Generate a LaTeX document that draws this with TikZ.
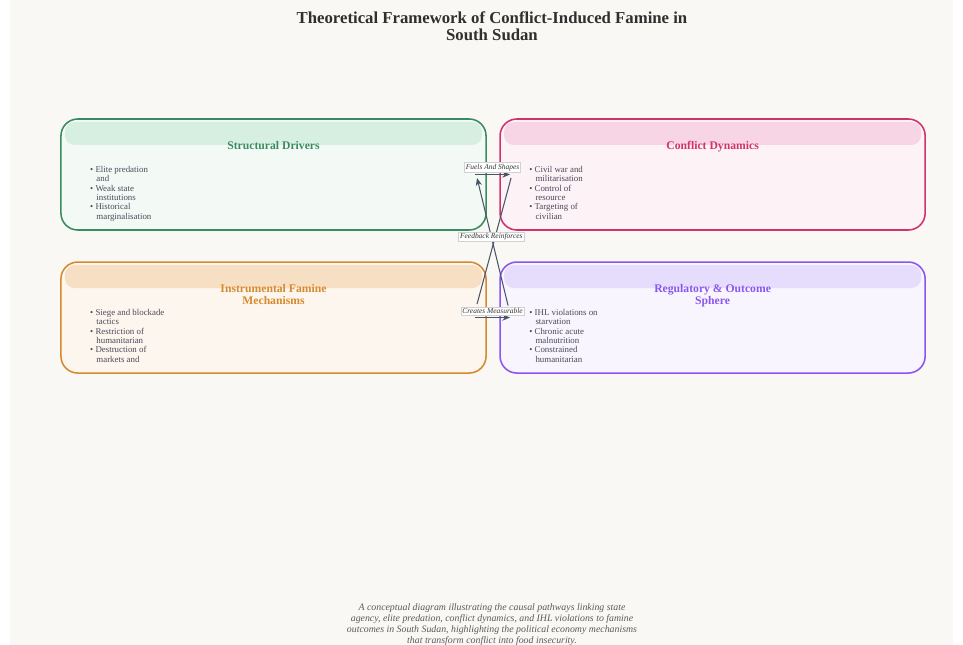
\documentclass[tikz,border=0pt]{standalone}
\usepackage{fontspec}
\setmainfont{Liberation Serif}
\usetikzlibrary{arrows.meta, positioning, calc}

\definecolor{pagebg}{HTML}{F9F8F5}
\definecolor{inktitle}{HTML}{2F2F2F}
\definecolor{inktext}{HTML}{4A4A5C}
\definecolor{inkedge}{HTML}{4A5568}
\definecolor{inkcap}{HTML}{5A5A5A}
% one line, one fill and one header tint per sphere
\definecolor{sdline}{HTML}{3A8C60}\definecolor{sdfill}{HTML}{F3FAF5}\definecolor{sdhead}{HTML}{D6EFE0}
\definecolor{cdline}{HTML}{D0336B}\definecolor{cdfill}{HTML}{FDF2F6}\definecolor{cdhead}{HTML}{F7D5E5}
\definecolor{imline}{HTML}{D68A2E}\definecolor{imfill}{HTML}{FDF6EE}\definecolor{imhead}{HTML}{F6DFC2}
\definecolor{rdline}{HTML}{8B55F0}\definecolor{rdfill}{HTML}{F8F5FE}\definecolor{rdhead}{HTML}{E6DCFB}

\newcommand{\bitem}[2]{\textbullet\ #1\\\hspace*{0.7em}#2}

\begin{document}
\begin{tikzpicture}[x=0.025cm, y=-0.025cm, >={Stealth[length=5.5pt, width=4.5pt]},
    node distance=0.35cm,
    sphere/.style={draw, rounded corners=12pt, line width=1.1pt, outer sep=0pt,
      minimum width=10.625cm, minimum height=2.775cm},
    band/.style={rounded corners=7pt, outer sep=0pt, inner sep=0pt,
      minimum width=10.425cm, minimum height=0.575cm},
    headline/.style={font=\fontsize{8.3}{8.8}\selectfont\bfseries, align=center,
      inner sep=0pt, anchor=north},
    points/.style={font=\fontsize{6.3}{6.65}\selectfont, text=inktext, align=left,
      inner sep=0pt, anchor=north west},
    link/.style={->, draw=inkedge, line width=0.75pt},
    tag/.style={draw=black!18, fill=white, inner sep=1pt, line width=0.3pt,
      font=\fontsize{5.3}{6}\selectfont\itshape, text=black!80}]

  \useasboundingbox (0,0) rectangle (963,645);
  \fill[white] (0,0) rectangle (963,645);
  \fill[pagebg] (10,0) rectangle (953,645);

  \node[font=\fontsize{11.9}{12.4}\selectfont\bfseries, text=inktitle,
        align=center, inner sep=0pt, anchor=north] (title) at (492,11)
    {Theoretical Framework of Conflict-Induced Famine in\\South Sudan};

  % the four spheres
  \node[sphere, draw=sdline, fill=sdfill] (sd) at (273.5,174.5) {};
  \node[sphere, draw=cdline, fill=cdfill, right=of sd] (cd) {};
  \node[sphere, draw=imline, fill=imfill, below=0.8cm of sd] (im) {};
  \node[sphere, draw=rdline, fill=rdfill, right=of im] (rd) {};

  \node[band, fill=sdhead] (sdband) at ($(sd.north)+(0,14.5)$) {};
  \node[band, fill=cdhead] (cdband) at ($(cd.north)+(0,14.5)$) {};
  \node[band, fill=imhead] (imband) at ($(im.north)+(0,14.5)$) {};
  \node[band, fill=rdhead] (rdband) at ($(rd.north)+(0,14.5)$) {};

  \node[headline, text=sdline] (sdtitle) at ($(sd.north)+(0,22)$) {Structural Drivers};
  \node[headline, text=cdline] (cdtitle) at ($(cd.north)+(0,22)$) {Conflict Dynamics};
  \node[headline, text=imline] (imtitle) at ($(im.north)+(0,22)$)
    {Instrumental Famine\\Mechanisms};
  \node[headline, text=rdline] (rdtitle) at ($(rd.north)+(0,22)$)
    {Regulatory \& Outcome\\Sphere};

  \node[points] (sdlist) at ($(sd.north west)+(29,47)$)
    {\bitem{Elite predation}{and}\\\bitem{Weak state}{institutions}\\
     \bitem{Historical}{marginalisation}};
  \node[points] (cdlist) at ($(cd.north west)+(29,47)$)
    {\bitem{Civil war and}{militarisation}\\\bitem{Control of}{resource}\\
     \bitem{Targeting of}{civilian}};
  \node[points] (imlist) at ($(im.north west)+(29,47)$)
    {\bitem{Siege and blockade}{tactics}\\\bitem{Restriction of}{humanitarian}\\
     \bitem{Destruction of}{markets and}};
  \node[points] (rdlist) at ($(rd.north west)+(29,47)$)
    {\bitem{IHL violations on}{starvation}\\\bitem{Chronic acute}{malnutrition}\\
     \bitem{Constrained}{humanitarian}};

  % connectors in the gap
  \coordinate (sdout) at ($(sd.east)+(-11,0)$);
  \coordinate (cdin)  at ($(cd.west)+(10,0)$);
  \coordinate (sdin)  at ($(sd.east)+(-9,3.5)$);
  \coordinate (cdout) at ($(cd.west)+(11,3.5)$);
  \coordinate (imin)  at ($(im.east)+(-9,-13.5)$);
  \coordinate (rdout) at ($(rd.west)+(8,-12)$);
  \coordinate (imout) at ($(im.east)+(-11,0)$);
  \coordinate (rdin)  at ($(rd.west)+(10,0)$);

  \draw[draw=inkedge, line width=0.75pt] (cdout) -- (imin);
  \draw[link] (rdout) -- node[tag, pos=0.54] (fbtag) {Feedback Reinforces} (sdin);
  \draw[link] (sdout) -- node[tag, above=1.5pt] (fstag) {Fuels And Shapes} (cdin);
  \draw[link] (imout) -- node[tag, above=1.5pt] (cmtag) {Creates Measurable} (rdin);

  \node[font=\fontsize{7}{7.8}\selectfont\itshape, text=inkcap, align=center,
        inner sep=0pt, anchor=north] (caption) at (492,603)
    {A conceptual diagram illustrating the causal pathways linking state\\
     agency, elite predation, conflict dynamics, and IHL violations to famine\\
     outcomes in South Sudan, highlighting the political economy mechanisms\\
     that transform conflict into food insecurity.};
\end{tikzpicture}
\end{document}
